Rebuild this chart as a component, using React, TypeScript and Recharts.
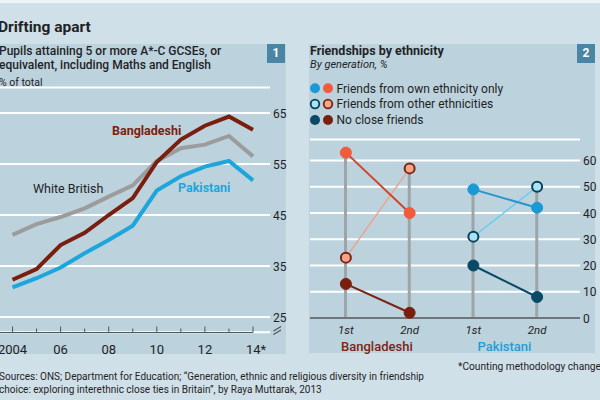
import React from "react";
import {
  LineChart,
  Line,
  XAxis,
  YAxis,
  CartesianGrid,
  ComposedChart,
  Bar,
} from "recharts";

// Panel 1: GCSE attainment, % of pupils
const years = [2004, 2005, 2006, 2007, 2008, 2009, 2010, 2011, 2012, 2013, 2014];
const yearLabels = ["2004", "", "06", "", "08", "", "10", "", "12", "", "14*"];
const bangladeshi = [32.3, 34.4, 39.1, 41.5, 45.0, 48.3, 55.4, 59.8, 62.5, 64.3, 61.7];
const whiteBritish = [41.1, 43.2, 44.6, 46.3, 48.6, 50.8, 55.6, 58.1, 58.8, 60.5, 56.5];
const pakistani = [30.8, 32.6, 34.7, 37.5, 40.1, 42.9, 49.8, 52.6, 54.5, 55.6, 51.8];
const gcseTicks = [25, 35, 45, 55, 65];

// Panel 2: friendships by generation, %
const groups = ["Bangladeshi", "Bangladeshi", "Pakistani", "Pakistani"];
const generations = ["1st", "2nd", "1st", "2nd"];
const bdOwn = [63, 40, null, null];
const bdOther = [23, 57, null, null];
const bdNone = [13, 2, null, null];
const pkOwn = [null, null, 49, 42];
const pkOther = [null, null, 31, 50];
const pkNone = [null, null, 20, 8];
const friendTicks = [0, 10, 20, 30, 40, 50, 60];

const FONT = "Roboto, 'Noto Sans', sans-serif";
const INK = "#1f2326";
const AXIS = "#4f575b";
const BD_DARK = "#7a1f10";
const PK_BLUE = "#1ca6dc";

const gcseData = years.map((y, i) => ({
  year: String(y),
  label: yearLabels[i],
  bangladeshi: bangladeshi[i],
  whiteBritish: whiteBritish[i],
  pakistani: pakistani[i],
}));

const friendData = generations.map((g, i) => {
  const vals = [bdOwn[i], bdOther[i], bdNone[i], pkOwn[i], pkOther[i], pkNone[i]].filter(
    (v) => v !== null
  ) as number[];
  return {
    id: `${groups[i]} ${g}`,
    gen: g,
    group: groups[i],
    top: Math.max(...vals),
    bdOwn: bdOwn[i],
    bdOther: bdOther[i],
    bdNone: bdNone[i],
    pkOwn: pkOwn[i],
    pkOther: pkOther[i],
    pkNone: pkNone[i],
  };
});

function YearTick(props: any) {
  const { x, y, index } = props;
  const label = yearLabels[index];
  const last = index === years.length - 1;
  const by = Math.round(y) + 0.5;
  return (
    <g>
      <line x1={x - 12.5} x2={last ? x : x + 12.5} y1={by} y2={by} stroke={AXIS} strokeWidth={1} />
      <line x1={x} x2={x} y1={by} y2={by - (index % 2 === 0 ? 6 : 4)} stroke={AXIS} strokeWidth={1} />
      {label && (
        <text
          x={last ? x + 3 : x}
          y={y + 22}
          textAnchor="middle"
          fontSize={13}
          fontFamily={FONT}
          fill={INK}
        >
          {label}
        </text>
      )}
    </g>
  );
}

function RightTick(props: any) {
  const { x, y, payload } = props;
  return (
    <text x={x + 3} y={y + 4.5} fontSize={12} fontFamily={FONT} fill={INK}>
      {payload.value}
    </text>
  );
}

function GenTick(props: any) {
  const { x, y, index } = props;
  const d = friendData[index];
  if (!d) return null;
  const first = d.gen === "1st";
  return (
    <g>
      <text
        x={x}
        y={y + 16}
        textAnchor="middle"
        fontSize={11.5}
        fontStyle="italic"
        fontFamily={FONT}
        fill={INK}
      >
        {d.gen}
      </text>
      {first && (
        <text
          x={x + 31}
          y={y + 33}
          textAnchor="middle"
          fontSize={13}
          fontWeight={500}
          fontFamily={FONT}
          fill={d.group === "Bangladeshi" ? "#7d2414" : "#1d9ed6"}
        >
          {d.group}
        </text>
      )}
    </g>
  );
}

function Badge({ x, n }: { x: number; n: string }) {
  return (
    <div
      style={{
        position: "absolute",
        left: x,
        top: 44,
        width: 18,
        height: 19,
        background: "#4a86a4",
        color: "#fff",
        fontFamily: FONT,
        fontWeight: 700,
        fontSize: 12,
        lineHeight: "19px",
        textAlign: "center",
      }}
    >
      {n}
    </div>
  );
}

export default function App() {
  return (
    <div
      style={{
        position: "absolute",
        left: 0,
        top: 0,
        width: 600,
        height: 400,
        overflow: "hidden",
        background: "#d0e0e8",
        fontFamily: FONT,
      }}
    >
      <div style={{ position: "absolute", left: 0, top: 0, width: 600, height: 3, background: "#edf3f6" }} />
      <div style={{ position: "absolute", left: 0, top: 44, width: 286, height: 310, background: "#bcd2dd" }} />
      <div style={{ position: "absolute", left: 309, top: 44, width: 286, height: 309, background: "#bcd2dd" }} />
      <Badge x={267} n="1" />
      <Badge x={577} n="2" />

      <div style={{ position: "absolute", left: 0, top: 0 }}>
        <LineChart width={290} height={360} data={gcseData} margin={{ top: 87.5, right: 0, bottom: 0, left: 0 }}>
          <CartesianGrid vertical={false} stroke="#ffffff" strokeWidth={2} />
          <XAxis
            dataKey="year"
            height={27.7}
            axisLine={false}
            tickLine={false}
            tickSize={0}
            tickMargin={0}
            interval={0}
            padding={{ left: 12.5, right: 17 }}
            tick={<YearTick />}
          />
          <YAxis
            orientation="right"
            width={20}
            domain={[22, 70]}
            ticks={gcseTicks}
            axisLine={false}
            tickLine={false}
            tickSize={0}
            tickMargin={0}
            tick={<RightTick />}
          />
          <Line dataKey="whiteBritish" stroke="#9c9c9c" strokeWidth={4} dot={false} isAnimationActive={false} />
          <Line dataKey="pakistani" stroke={PK_BLUE} strokeWidth={4} dot={false} isAnimationActive={false} />
          <Line dataKey="bangladeshi" stroke={BD_DARK} strokeWidth={4} dot={false} isAnimationActive={false} />
        </LineChart>
      </div>

      <div style={{ position: "absolute", left: 300, top: 0 }}>
        <ComposedChart width={300} height={360} data={friendData} margin={{ top: 139.5, right: 0, bottom: 0, left: 10 }}>
          <CartesianGrid vertical={false} stroke="#ffffff" strokeWidth={2} />
          <XAxis
            dataKey="id"
            height={42}
            axisLine={{ stroke: "#6d767b", strokeWidth: 2 }}
            tickLine={false}
            tickSize={0}
            tickMargin={0}
            interval={0}
            padding={{ left: 4, right: 11 }}
            tick={<GenTick />}
          />
          <YAxis
            orientation="right"
            width={20}
            domain={[0, 68]}
            ticks={friendTicks}
            axisLine={false}
            tickLine={false}
            tickSize={0}
            tickMargin={0}
            tick={<RightTick />}
          />
          <Bar dataKey="top" barSize={3} fill="#9ea5a9" isAnimationActive={false} />
          <Line dataKey="bdNone" stroke="#7a2413" strokeWidth={2} dot={{ r: 5.5, fill: "#7a1e0e", stroke: "#7a1e0e", strokeWidth: 1 }} isAnimationActive={false} />
          <Line dataKey="bdOther" stroke="#eea48c" strokeWidth={1.5} dot={{ r: 5, fill: "#f6a589", stroke: "#7b2413", strokeWidth: 2 }} isAnimationActive={false} />
          <Line dataKey="bdOwn" stroke="#cf452c" strokeWidth={2} dot={{ r: 5.5, fill: "#f15a3a", stroke: "#f15a3a", strokeWidth: 1 }} isAnimationActive={false} />
          <Line dataKey="pkNone" stroke="#0b4a66" strokeWidth={2} dot={{ r: 5.5, fill: "#0b4a66", stroke: "#0b4a66", strokeWidth: 1 }} isAnimationActive={false} />
          <Line dataKey="pkOther" stroke="#6ccdef" strokeWidth={1.5} dot={{ r: 5, fill: "#a8e4f7", stroke: "#0c3f55", strokeWidth: 2 }} isAnimationActive={false} />
          <Line dataKey="pkOwn" stroke="#2a95cb" strokeWidth={2} dot={{ r: 5.5, fill: "#1a99d5", stroke: "#1a99d5", strokeWidth: 1 }} isAnimationActive={false} />
        </ComposedChart>
      </div>

      <svg
        width={600}
        height={400}
        style={{ position: "absolute", left: 0, top: 0, pointerEvents: "none" }}
        fontFamily={FONT}
      >
        <text x={-2} y={32} fontSize={15.5} fontWeight={700} fill={INK}>Drifting apart</text>
        <text x={-1} y={54.5} fontSize={12} fontWeight={500} fill={INK}>Pupils attaining 5 or more A*-C GCSEs, or</text>
        <text x={-1} y={68.5} fontSize={12} fontWeight={500} fill={INK}>equivalent, including Maths and English</text>
        <text x={-1} y={86} fontSize={10.5} fill={INK}>% of total</text>

        <text x={112} y={135} fontSize={12.5} fontWeight={700} fill={BD_DARK}>Bangladeshi</text>
        <text x={33} y={192.5} fontSize={12.5} fill={INK}>White British</text>
        <text x={178} y={191.5} fontSize={12.5} fontWeight={700} fill={PK_BLUE}>Pakistani</text>

        <g stroke={AXIS} strokeWidth={1.3}>
          <line x1={273.5} y1={331} x2={281} y2={326.5} />
          <line x1={273.5} y1={334.5} x2={281} y2={330} />
        </g>

        <text x={310} y={54.5} fontSize={12.5} fontWeight={700} fill={INK}>Friendships by ethnicity</text>
        <text x={310} y={68} fontSize={11} fontStyle="italic" fill={INK}>By generation, %</text>

        <circle cx={315} cy={88.3} r={5} fill="#1a99d5" />
        <circle cx={328} cy={88.3} r={5} fill="#f15a3a" />
        <circle cx={315} cy={104} r={4.3} fill="#a8e4f7" stroke="#0c3f55" strokeWidth={1.8} />
        <circle cx={328} cy={104} r={4.3} fill="#f6a589" stroke="#7b2413" strokeWidth={1.8} />
        <circle cx={315} cy={120} r={5} fill="#0b4a66" />
        <circle cx={328} cy={120} r={5} fill="#7a1e0e" />
        <text x={336.5} y={92.6} fontSize={12} fill={INK}>Friends from own ethnicity only</text>
        <text x={336.5} y={108.3} fontSize={12} fill={INK}>Friends from other ethnicities</text>
        <text x={336.5} y={124.3} fontSize={12} fill={INK}>No close friends</text>

        <text x={458} y={370} fontSize={10.2} fill={INK}>*Counting methodology change</text>
        <text x={-1} y={380} fontSize={10} fill={INK}>
          Sources: ONS; Department for Education; “Generation, ethnic and religious diversity in friendship
        </text>
        <text x={-1} y={393} fontSize={10} fill={INK}>
          choice: exploring interethnic close ties in Britain”, by Raya Muttarak, 2013
        </text>
      </svg>
    </div>
  );
}
